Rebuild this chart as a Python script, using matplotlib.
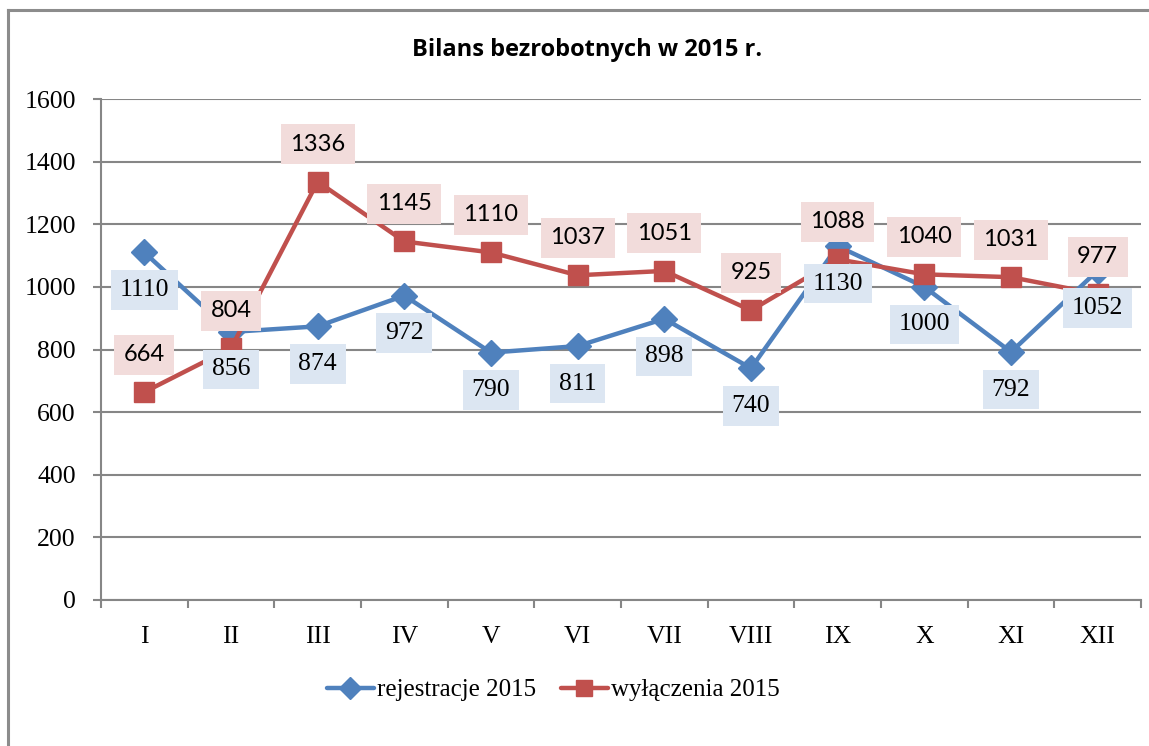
import matplotlib
matplotlib.use("Agg")
import matplotlib.pyplot as plt
from matplotlib.lines import Line2D
import numpy as np

months = ["I", "II", "III", "IV", "V", "VI", "VII", "VIII", "IX", "X", "XI", "XII"]
rejestracje = [1110, 856, 874, 972, 790, 811, 898, 740, 1130, 1000, 792, 1052]
wylaczenia = [664, 804, 1336, 1145, 1110, 1037, 1051, 925, 1088, 1040, 1031, 977]
yticks = [0, 200, 400, 600, 800, 1000, 1200, 1400, 1600]

W, H = 1149, 746
fig = plt.figure(figsize=(W / 100, H / 100), dpi=100)
ax = fig.add_axes([101 / W, 1 - 600 / H, 1040 / W, 501 / H])

blue = "#4F81BD"
red = "#C0504D"
grid = "#868686"
serif = "Liberation Serif"

x = np.arange(len(months))
ax.plot(x, rejestracje, color=blue, lw=3.2, marker="D", ms=13, mec=blue, mfc=blue,
        label="rejestracje 2015", zorder=3, solid_capstyle="round")
ax.plot(x, wylaczenia, color=red, lw=3.2, marker="s", ms=14, mec=red, mfc=red,
        label="wyłączenia 2015", zorder=3, solid_capstyle="round")

for xi, v in zip(x, rejestracje):
    ax.annotate(str(v), (xi, v), xytext=(0, -27), textcoords="offset points",
                ha="center", va="center", fontsize=18.5, family=serif,
                bbox=dict(boxstyle="square,pad=0.34", fc="#DCE6F2", ec="none"), zorder=4)
for xi, v in zip(x, wylaczenia):
    ax.annotate(str(v), (xi, v), xytext=(0, 27), textcoords="offset points",
                ha="center", va="center", fontsize=17, family="Lato",
                bbox=dict(boxstyle="square,pad=0.4", fc="#F2DCDB", ec="none"), zorder=4)

ax.set_xlim(-0.5, len(months) - 0.5)
ax.set_ylim(0, 1600)
ax.set_yticks(yticks)
ax.set_yticklabels([str(t) for t in yticks], family=serif, fontsize=18.5)
ax.yaxis.grid(True, color=grid, lw=1.5)
ax.set_axisbelow(True)

ax.set_xticks(np.arange(-0.5, len(months), 1.0))
ax.set_xticklabels([])
ax.set_xticks(x, minor=True)
ax.set_xticklabels(months, minor=True, family=serif, fontsize=18.5)
ax.tick_params(axis="x", which="minor", length=0, pad=19)
ax.tick_params(axis="x", which="major", length=6, width=1.5, color=grid, direction="out")
ax.tick_params(axis="y", length=6, width=1.5, color=grid, pad=12)

for s in ["top", "right"]:
    ax.spines[s].set_visible(False)
for s in ["left", "bottom"]:
    ax.spines[s].set_color(grid)
    ax.spines[s].set_linewidth(1.5)

fig.text(587 / W, 1 - 50 / H, "Bilans bezrobotnych w 2015 r.", ha="center", va="center",
         fontsize=17, fontweight="bold", family="Open Sans")

leg = fig.legend(loc="center", bbox_to_anchor=(553 / W, 1 - 690 / H), ncol=2, frameon=False,
                 prop={"family": serif, "size": 18}, handlelength=1.9, handletextpad=0.1,
                 columnspacing=1.0, markerscale=0.85)

fig.add_artist(Line2D([8 / W, 8 / W], [0, 1 - 10 / H], color="#8c8c8c", lw=2.2,
                      transform=fig.transFigure))
fig.add_artist(Line2D([8 / W, 1], [1 - 10 / H, 1 - 10 / H], color="#8c8c8c", lw=2.2,
                      transform=fig.transFigure))

fig.savefig("out.png", dpi=100)
